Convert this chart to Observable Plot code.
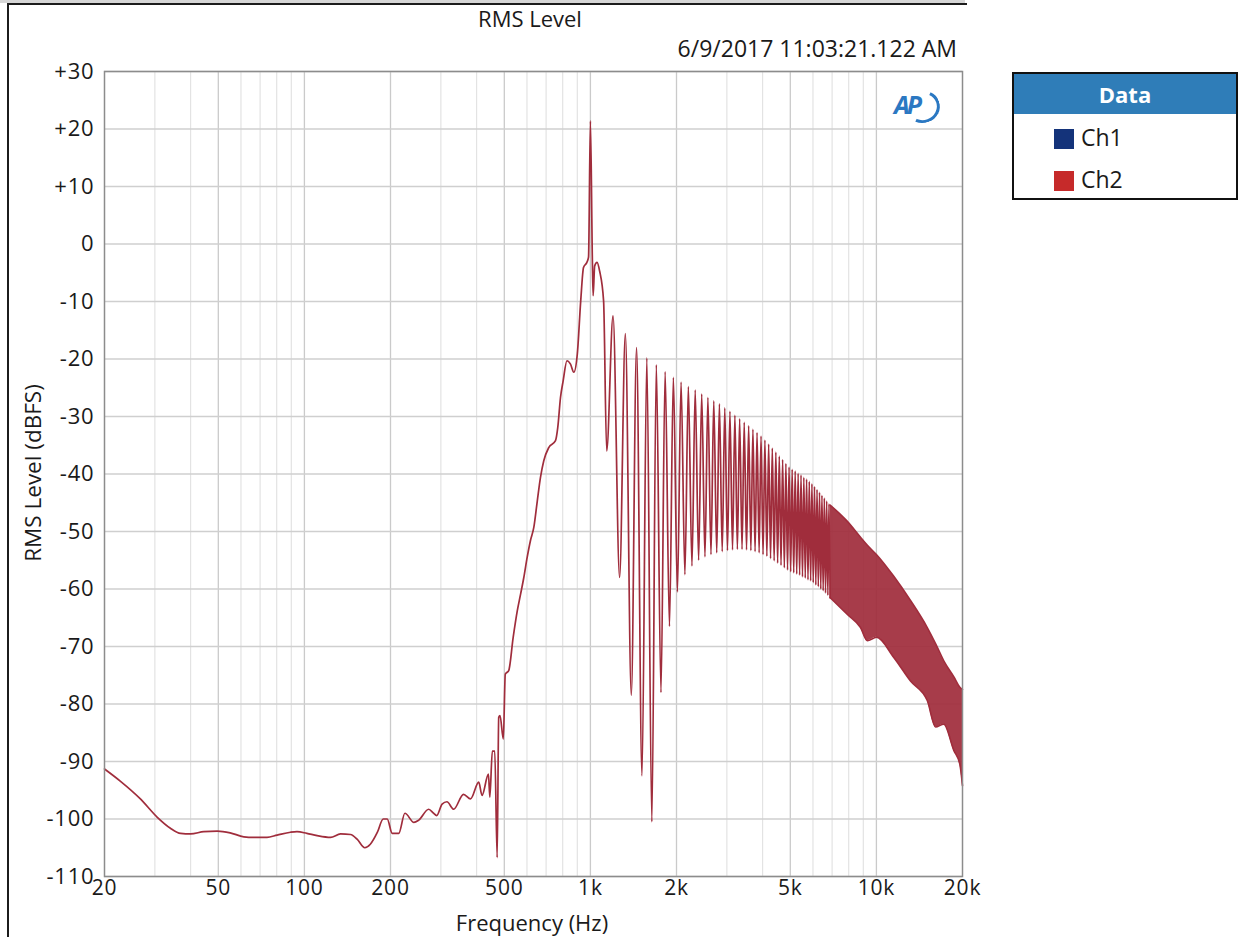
<!DOCTYPE html>
<html>
<head>
<meta charset="utf-8">
<script src="https://cdn.jsdelivr.net/npm/d3@7"></script>
<script src="https://cdn.jsdelivr.net/npm/@observablehq/plot@0.6"></script>
<style>
html,body{margin:0;padding:0;background:#fff;}
body{width:1250px;height:937px;position:relative;overflow:hidden;font-family:"Open Sans",sans-serif;color:#1a1a1a;}
#strip{position:absolute;left:0;top:0;width:965px;height:3px;background:#d6d6d6;}
#win{position:absolute;left:7px;top:3px;width:958px;height:940px;border-top:2px solid #1c1c1c;border-left:2px solid #1c1c1c;}
#title{position:absolute;left:380px;width:300px;top:4px;text-align:center;font-size:22px;line-height:28px;}
#stamp{position:absolute;left:457px;width:500px;top:34px;text-align:right;font-size:23px;line-height:28px;}
#chart{position:absolute;left:0;top:62px;}
#xlabel{position:absolute;left:382px;width:300px;top:910px;height:24px;text-align:center;font-size:22px;line-height:24px;}
#ylabel{position:absolute;left:33px;top:473px;transform:translate(-50%,-50%) rotate(-90deg);white-space:nowrap;font-size:22.5px;line-height:28px;}
#logo{position:absolute;left:892px;top:88px;width:50px;height:34px;}
#logo .ap{position:absolute;left:2px;top:0px;font-size:25px;font-weight:700;font-style:italic;color:#2b78c2;letter-spacing:-3px;line-height:32px;}
#logo .arc{position:absolute;left:14px;top:3px;width:28px;height:26px;border:3px solid #2b78c2;border-left-color:transparent;border-top-color:transparent;border-radius:50%;transform:rotate(-20deg);}
#legend{position:absolute;left:1012px;top:72px;width:222px;height:124px;border:2px solid #111;background:#fff;}
#legend .head{height:40px;background:#2f7db8;color:#fff;font-weight:700;font-size:22px;line-height:40px;text-align:center;}
#legend .row{position:absolute;left:40px;height:28px;font-size:23px;line-height:28px;}
#legend .sw{display:inline-block;width:20px;height:20px;vertical-align:-3px;margin-right:7px;}
</style>
</head>
<body>
<div id="strip"></div>
<div id="win"></div>
<div id="title">RMS Level</div>
<div id="stamp">6/9/2017 11:03:21.122 AM</div>
<div id="chart"></div>
<div id="xlabel">Frequency (Hz)</div>
<div id="ylabel">RMS Level (dBFS)</div>
<div id="logo"><div class="arc"></div><span class="ap">AP</span></div>
<div id="legend">
  <div class="head">Data</div>
  <div class="row" style="top:49px"><span class="sw" style="background:#14337a"></span>Ch1</div>
  <div class="row" style="top:91px"><span class="sw" style="background:#c62a2a"></span>Ch2</div>
</div>
<script>
// ---- data ----
// low-frequency floor, rise and the 1 kHz tone (Hz, dBFS)
const lowF = [20,22.7,26.7,30.6,34,36.9,40,44.5,49.6,55,61.4,66.5,74,80.3,89.4,94.2,102,110.8,123.4,133.8,145,152.8,162.6,170,180,188.6,194.8,202.8,213.7,224.6,241.6,251,272,283,290,303,315,332.6,360,381,407,418,440,445,454,463,472,478,483,496,504,518,537,555,570,585,601,617,634,652,669,687,715,755,769,786,803,828,852,875,900,925,946,972,985,1000,1016,1022,1035,1055,1077,1112];
const lowDb = [-91.3,-93.4,-96.5,-99.7,-101.6,-102.5,-102.6,-102.2,-102.1,-102.4,-103.1,-103.2,-103.2,-102.8,-102.3,-102.2,-102.5,-102.9,-103.2,-102.6,-102.7,-103.5,-105,-104.4,-102.3,-100,-100,-102.5,-102.5,-99,-100.6,-100.2,-98.3,-99,-99.4,-97.4,-97,-98.3,-95.7,-96.5,-93.6,-95.9,-92.2,-96.2,-88.2,-88.2,-106.7,-82.3,-82,-86.1,-74.8,-74.2,-68.4,-63.8,-60.9,-58,-54.5,-51.6,-49.3,-44.7,-40.6,-37.7,-35.4,-34.2,-31.9,-26.7,-23.8,-20.3,-20.9,-22.3,-19.1,-9.9,-4.1,-3.2,-2.3,21.4,-2.9,-9,-3.8,-3.2,-4.7,-9.9];
// side-lobe troughs and peaks above the tone
const combTroughF = [1140,1265,1390,1515,1640,1765,1890,2015,2140,2265,2390,2515,2640,2765,2890,3015,3140,3265,3390,3515,3640,3765,3890,4015,4140,4265,4390,4515,4640,4765,4890,5015,5140,5265,5390,5515,5640,5765,5890,6015,6140,6265,6390,6515,6640,6765,6890];
const combTroughDb = [-36,-58,-78.5,-92.5,-100.5,-78,-66.5,-60.5,-57.5,-56,-55,-54.4,-54,-53.7,-53.5,-53.3,-53.2,-53.1,-53.1,-53.2,-53.3,-53.5,-53.7,-54,-54.3,-54.7,-55.1,-55.5,-55.9,-56.3,-56.7,-57,-57.2,-57.4,-57.6,-57.9,-58.1,-58.4,-58.6,-58.9,-59.3,-59.6,-60,-60.3,-60.7,-61.1,-61.5];
const combPeakF = [1200,1325,1450,1575,1700,1825,1950,2075,2200,2325,2450,2575,2700,2825,2950,3075,3200,3325,3450,3575,3700,3825,3950,4075,4200,4325,4450,4575,4700,4825,4950,5075,5200,5325,5450,5575,5700,5825,5950,6075,6200,6325,6450,6575,6700,6825];
const combPeakDb = [-12.5,-15.6,-18,-19.8,-21,-22.2,-23.2,-24,-24.8,-25.4,-26.1,-26.7,-27.3,-27.8,-28.5,-29.1,-29.8,-30.4,-31,-31.6,-32.2,-32.8,-33.4,-34.1,-34.8,-35.5,-36.2,-36.9,-37.5,-38.2,-38.8,-39.2,-39.5,-39.9,-40.2,-40.6,-40.9,-41.3,-41.7,-42.2,-42.7,-43.2,-43.7,-44.2,-44.7,-45.2];
// dense side-lobe band (upper / lower envelope)
const envF  = [6890,7900,8800,9300,10000,11500,13160,15060,16100,17200,18660,19580,20000];
const envHi = [-45.4,-48.2,-51,-52.4,-54,-57.8,-62,-66.7,-69.5,-72.5,-75.3,-77.1,-77.5];
const envLo = [-61.5,-64.4,-66.7,-69,-68.4,-71.9,-76,-79.4,-84,-83.5,-88.1,-90.5,-94.2];
// axes
const xTickValues = [20,50,100,200,500,1000,2000,5000,10000,20000];
const xTickLabels = ["20","50","100","200","500","1k","2k","5k","10k","20k"];
const xMinor = [30,40,60,70,80,90,300,400,600,700,800,900,3000,4000,6000,7000,8000,9000];
const yTicks = [30,20,10,0,-10,-20,-30,-40,-50,-60,-70,-80,-90,-100,-110];

// ---- build ----
const color = "#a02d3c";
const lineData = lowF.map((f, i) => ({f, db: lowDb[i]}));
combTroughF.forEach((f, i) => {
  lineData.push({f, db: combTroughDb[i]});
  if (i < combPeakF.length) lineData.push({f: combPeakF[i], db: combPeakDb[i]});
});
const envData = envF.map((f, i) => ({f, hi: envHi[i], lo: envLo[i]}));
const xTickData = xTickValues.map((v, i) => ({v, label: xTickLabels[i]}));
const xMajor = xTickValues.slice(1, -1);

const chart = Plot.plot({
  width: 1000,
  height: 875,
  marginLeft: 104,
  marginRight: 38,
  marginTop: 9,
  marginBottom: 61,
  style: {fontFamily: '"Open Sans", sans-serif', fontSize: "22px", letterSpacing: "0.8px", color: "#1a1a1a", background: "transparent", overflow: "visible"},
  x: {type: "log", domain: [20, 20000], axis: null},
  y: {domain: [-110, 30]},
  marks: [
    Plot.ruleX(xMinor, {stroke: "#e3e3e3", strokeWidth: 1.2}),
    Plot.ruleX(xMajor, {stroke: "#cacaca", strokeWidth: 1.3}),
    Plot.ruleY(yTicks, {stroke: "#cfcfcf", strokeWidth: 1.3}),
    Plot.text(xTickData, {x: "v", text: "label", frameAnchor: "bottom", lineAnchor: "top", dy: 4, fontSize: 21, fill: "#1a1a1a"}),
    Plot.axisY(yTicks, {tickSize: 0, tickPadding: 10, fontSize: 22, tickFormat: d => d > 0 ? "+" + d : String(d), label: null}),
    Plot.areaY(envData, {x: "f", y1: "lo", y2: "hi", fill: color, fillOpacity: 0.93, curve: "monotone-x"}),
    Plot.line(envData, {x: "f", y: "hi", stroke: color, strokeWidth: 1.6, curve: "monotone-x"}),
    Plot.line(envData, {x: "f", y: "lo", stroke: color, strokeWidth: 1.6, curve: "monotone-x"}),
    Plot.line(lineData, {x: "f", y: "db", stroke: color, strokeWidth: 1.7, curve: "monotone-x"}),
    Plot.frame({stroke: "#8c8c8c", strokeWidth: 1.5})
  ]
});
document.getElementById("chart").appendChild(chart);
</script>
</body>
</html>
